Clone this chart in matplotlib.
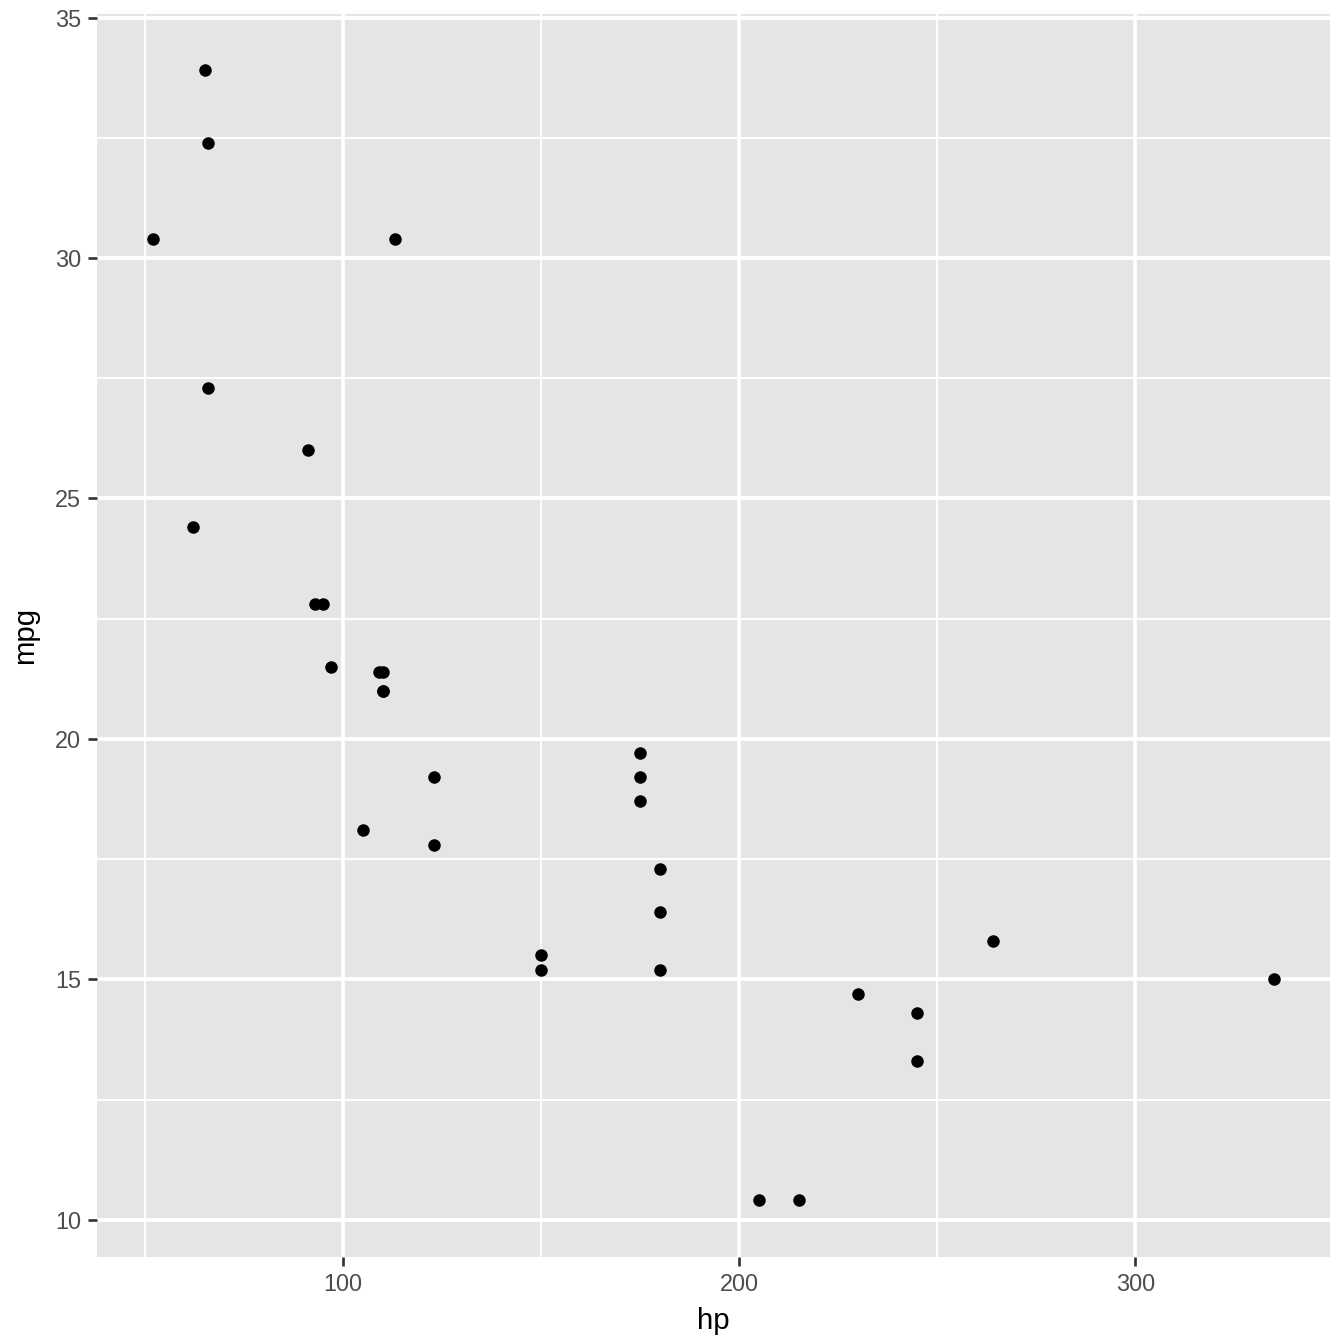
import matplotlib
matplotlib.use("Agg")
import matplotlib.pyplot as plt
from matplotlib.ticker import FixedLocator

hp = [110, 110, 93, 110, 175, 105, 245, 62, 95, 123, 123, 180, 180, 180, 205, 215,
      230, 66, 52, 65, 97, 150, 150, 245, 175, 66, 91, 113, 264, 175, 335, 109]
mpg = [21.0, 21.0, 22.8, 21.4, 18.7, 18.1, 14.3, 24.4, 22.8, 19.2, 17.8, 16.4, 17.3, 15.2, 10.4, 10.4,
       14.7, 32.4, 30.4, 33.9, 21.5, 15.5, 15.2, 13.3, 19.2, 27.3, 26.0, 30.4, 15.8, 19.7, 15.0, 21.4]
x_ticks = [100, 200, 300]
y_ticks = [10, 15, 20, 25, 30, 35]
x_minor = [50, 150, 250]
y_minor = [12.5, 17.5, 22.5, 27.5, 32.5]

plt.rcParams['font.family'] = ['Liberation Sans', 'DejaVu Sans']

fig = plt.figure(figsize=(7, 7), dpi=192)
ax = fig.add_axes([97/1344, 1 - 1257/1344, (1330-97)/1344, (1257-14)/1344])
ax.set_facecolor('#E5E5E5')
for s in ax.spines.values():
    s.set_visible(False)

xr = max(hp) - min(hp)
yr = max(mpg) - min(mpg)
ax.set_xlim(min(hp) - 0.05*xr, max(hp) + 0.05*xr)
ax.set_ylim(min(mpg) - 0.05*yr, max(mpg) + 0.05*yr)

ax.xaxis.set_major_locator(FixedLocator(x_ticks))
ax.yaxis.set_major_locator(FixedLocator(y_ticks))
ax.xaxis.set_minor_locator(FixedLocator(x_minor))
ax.yaxis.set_minor_locator(FixedLocator(y_minor))
ax.grid(which='major', color='white', linewidth=1.4)
ax.grid(which='minor', color='white', linewidth=0.7)
ax.set_axisbelow(True)
ax.tick_params(which='major', length=3.5, width=1.0, color='#333333',
               labelsize=8.8, labelcolor='#4D4D4D', pad=2.5)
ax.tick_params(which='minor', length=0)

ax.scatter(hp, mpg, s=22, color='black', linewidths=0, zorder=3)

ax.set_xlabel('hp', fontsize=11, color='black', labelpad=4)
ax.set_ylabel('mpg', fontsize=11, color='black', labelpad=6)

fig.savefig('out.png', dpi=192)
